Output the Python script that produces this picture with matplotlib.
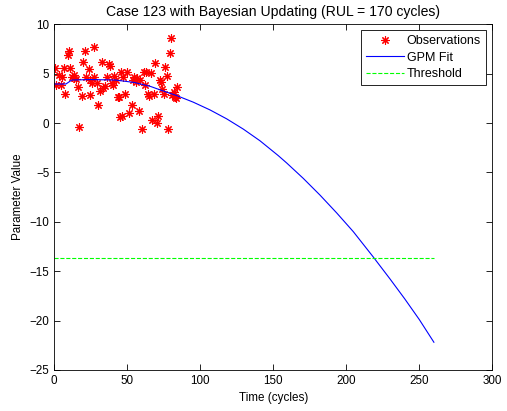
import matplotlib
matplotlib.use("Agg")
import matplotlib.pyplot as plt

plt.rcParams["font.family"] = ["Liberation Sans", "DejaVu Sans"]
plt.rcParams["font.size"] = 8.4

# observations (time, parameter value)
obs_time = [
    0.7, 1.4, 4.6, 3.0, 5.3, 7.6, 6.9, 9.9, 9.2, 10.5,
    12.2, 13.3, 13.8, 15.1, 16.0, 16.7, 19.0, 19.5, 20.9, 22.0,
    23.6, 24.8, 24.3, 27.0, 27.5, 25.9, 29.4, 30.0, 31.6, 32.8,
    33.5, 34.6, 36.3, 37.4, 38.5, 39.7, 40.8, 40.4, 43.8, 42.0,
    44.7, 45.4, 44.2, 46.1, 47.0, 48.4, 50.0, 51.1, 53.0, 53.9,
    54.6, 56.2, 56.9, 58.0, 58.5, 59.9, 61.4, 62.1, 63.1, 64.2,
    64.9, 66.0, 66.7, 68.3, 69.0, 70.2, 71.3, 72.4, 72.9, 74.1,
    75.2, 75.9, 76.9, 77.9, 79.3, 79.8, 80.9, 82.0, 82.7, 83.9,
    83.2,
]
obs_value = [
    5.6, 3.8, 3.8, 4.9, 4.7, 2.9, 5.6, 7.3, 6.9, 5.6,
    4.7, 4.6, 4.9, 4.5, 3.6, -0.4, 2.7, 6.2, 7.3, 4.7,
    5.5, 2.8, 4.4, 4.7, 7.7, 4.1, 4.1, 1.8, 3.2, 6.2,
    3.5, 3.7, 4.7, 6.0, 5.8, 4.1, 4.8, 3.8, 2.6, 4.4,
    0.6, 5.2, 2.6, 0.7, 4.7, 2.9, 5.2, 1.0, 1.8, 4.4,
    4.7, 4.2, 4.6, 1.2, 4.4, -0.6, 5.2, 3.8, 5.2, 2.9,
    2.7, 5.1, 0.3, 2.9, 6.1, 0.0, 0.7, 4.4, 4.2, 3.4,
    2.9, 5.7, 4.8, -0.6, 7.1, 8.6, 2.8, 3.1, 2.6, 3.6,
    2.5,
]

# GPM fit curve
fit_time = [0, 8, 12, 25, 42, 55, 66, 72.4, 83.8, 95.2,
            106.6, 118.1, 129.5, 140.9, 153.4, 159.2, 170.5, 182, 193.4, 204.8,
            218.5, 230, 240, 250, 260]
fit_value = [3.95, 3.95, 4.35, 4.4, 4.35, 4.1, 3.7, 3.36, 2.78, 2.11,
             1.33, 0.42, -0.62, -1.8, -3.3, -4.05, -5.6, -7.3, -9.1, -11.0,
             -13.57, -15.8, -17.8, -19.9, -22.2]

threshold_time = [0, 260]
threshold_value = [-13.7, -13.7]

fig = plt.figure(figsize=(5.07, 4.11), dpi=100)
ax = fig.add_axes([0.107, 0.1, 0.864, 0.841])

ax.plot(obs_time, obs_value, linestyle="none", marker=(8, 2, 0),
        color="red", markersize=6, markeredgewidth=0.8, label="Observations")
ax.plot(fit_time, fit_value, color="blue", linewidth=0.8, label="GPM Fit")
ax.plot(threshold_time, threshold_value, "--", color="#00ff00",
        linewidth=0.8, label="Threshold")

ax.set_xlim(0, 300)
ax.set_ylim(-25, 10)
ax.set_xticks(range(0, 301, 50))
ax.set_yticks(range(-25, 11, 5))
ax.tick_params(direction="in", top=True, right=True, length=4, width=0.6)
for s in ax.spines.values():
    s.set_linewidth(0.6)

ax.set_xlabel("Time (cycles)")
ax.set_ylabel("Parameter Value")
ax.set_title("Case 123 with Bayesian Updating (RUL = 170 cycles)")

leg = ax.legend(loc="upper right", fancybox=False, edgecolor="black",
                framealpha=1, numpoints=1, handlelength=3,
                handletextpad=0.25, labelspacing=0.35,
                borderaxespad=0.5, prop={"size": 9})
leg.get_frame().set_linewidth(0.6)

fig.savefig("out.png", dpi=100)
